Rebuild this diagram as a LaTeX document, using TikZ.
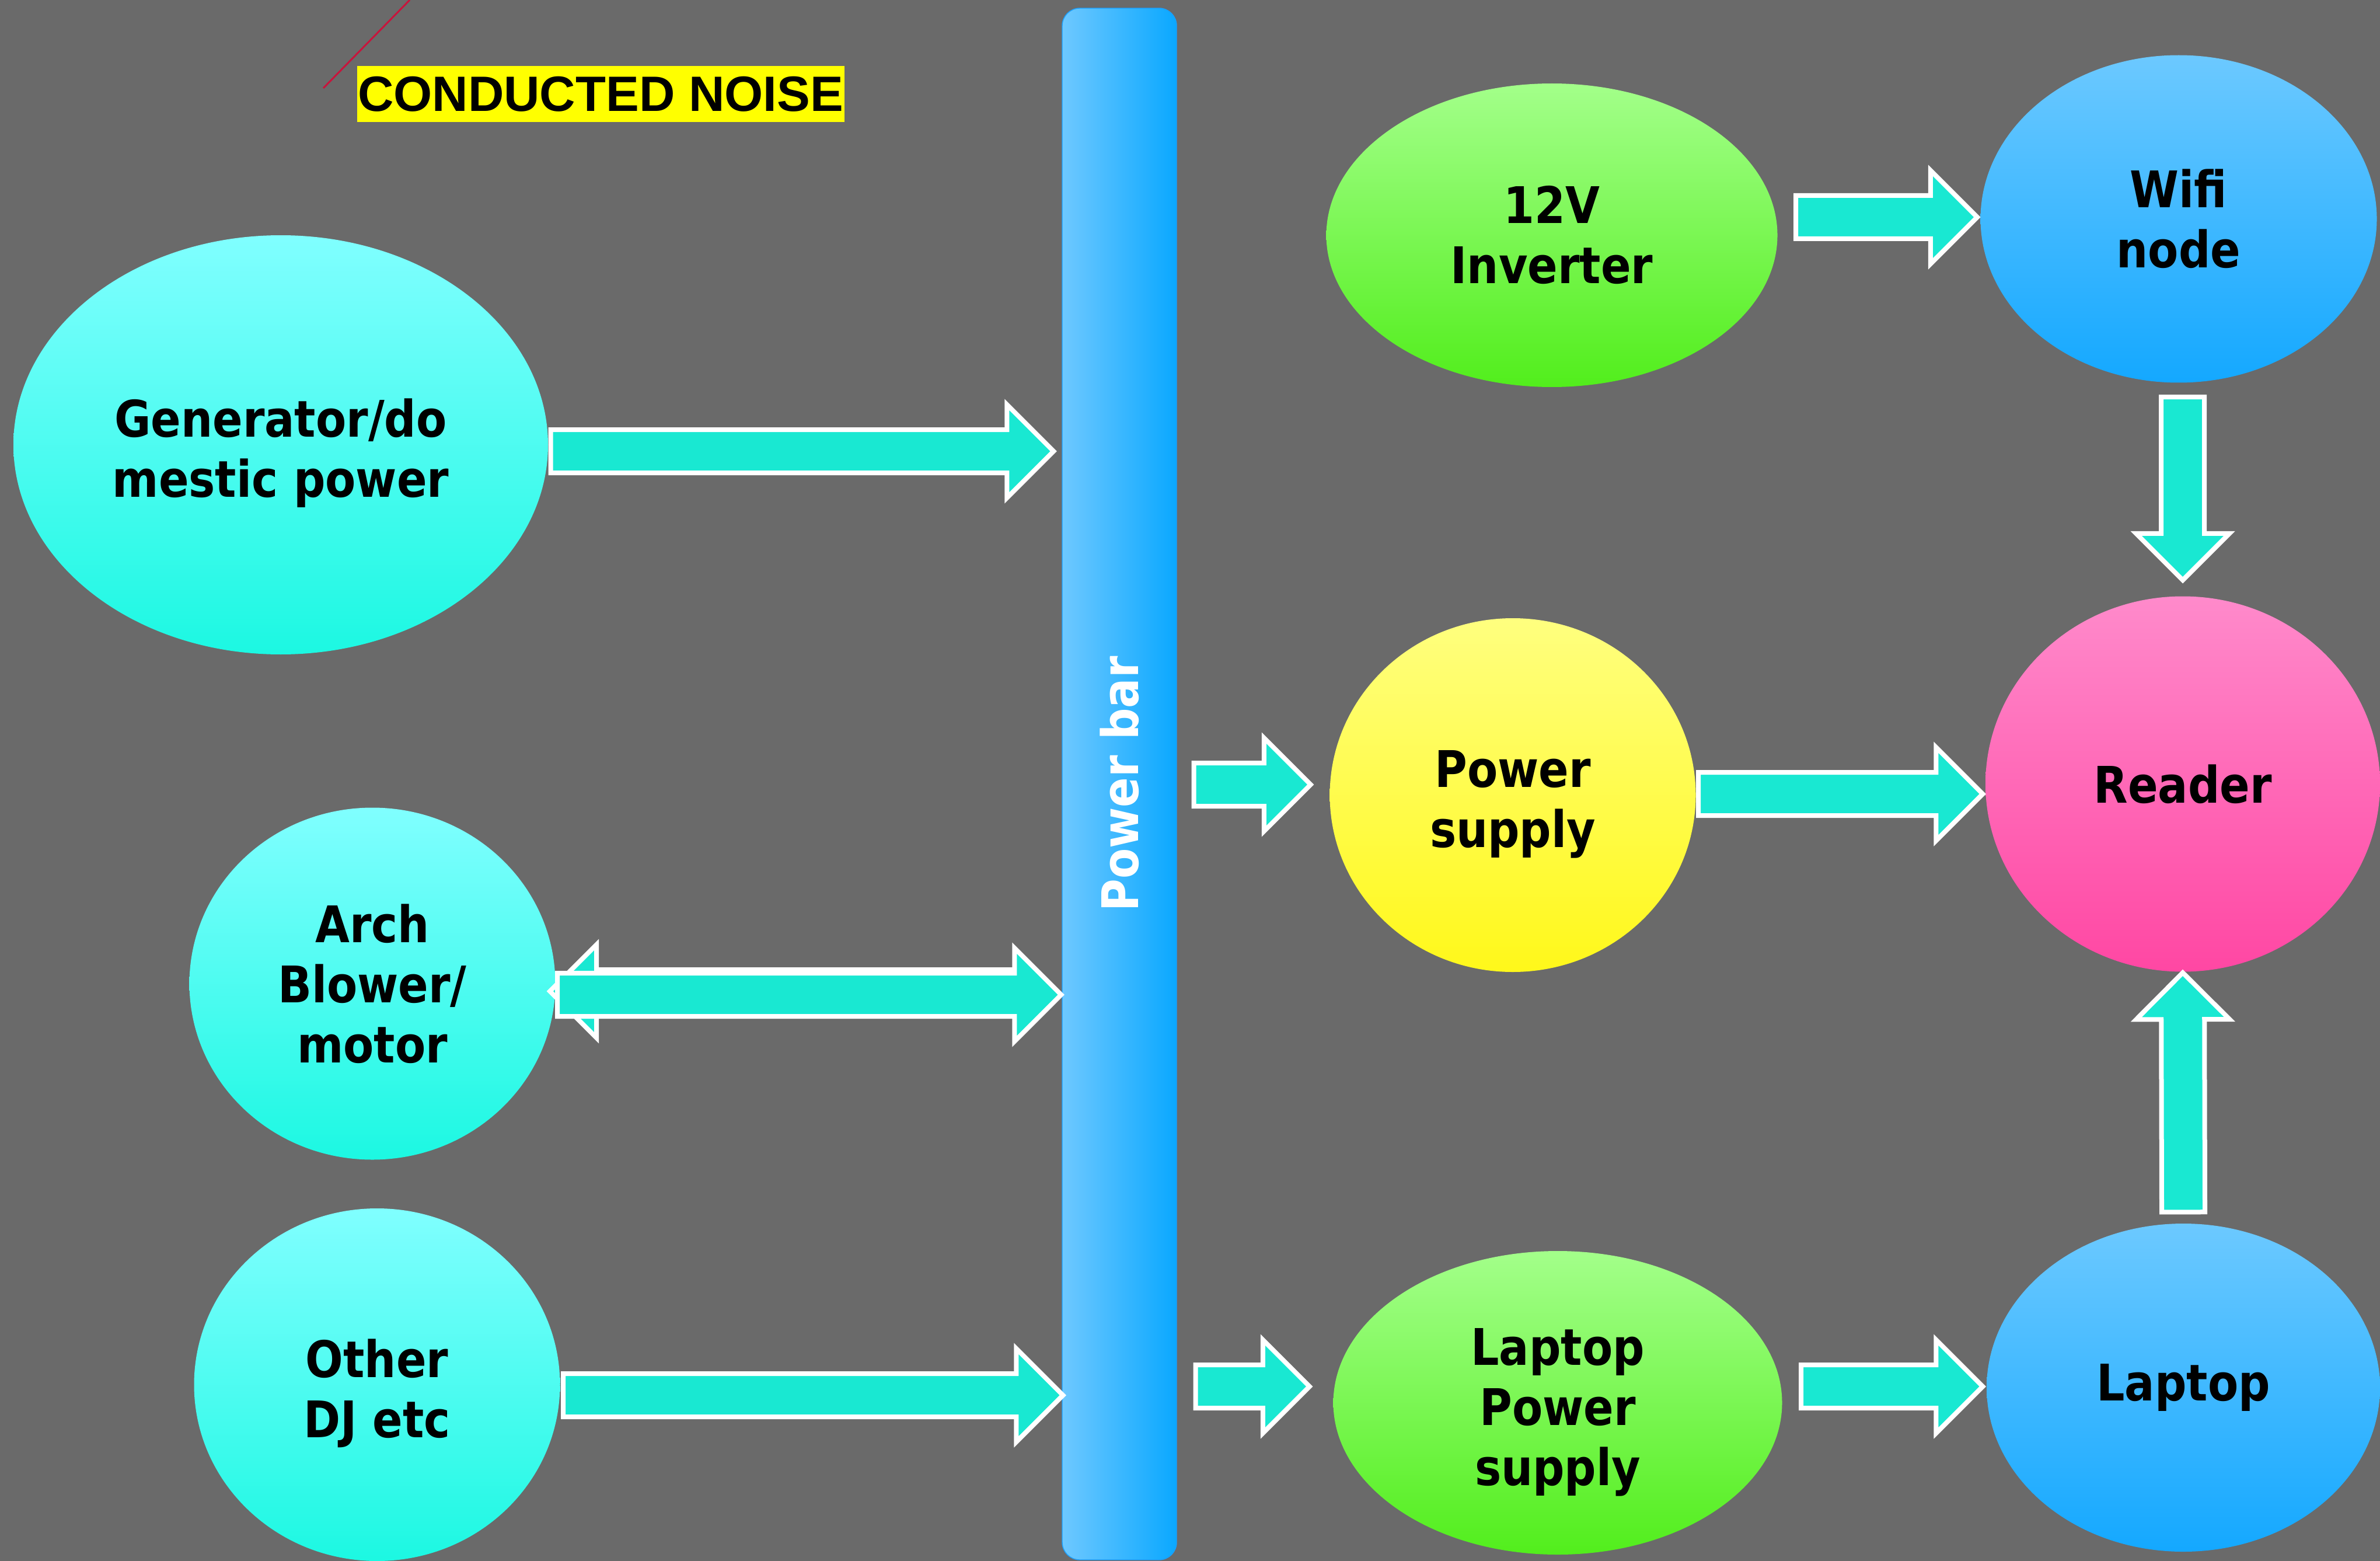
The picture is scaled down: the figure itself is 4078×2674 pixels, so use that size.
\documentclass[tikz,border=0pt]{standalone}
\usepackage{fontspec}
\newfontfamily\labelfont[FakeStretch=0.88]{DejaVu Sans}
\newfontfamily\titlefont{Liberation Sans}
\usetikzlibrary{shapes.geometric,calc,positioning}
\definecolor{backgray}{HTML}{6A6A6A}
\definecolor{noisered}{HTML}{C8143C}
\definecolor{tagyellow}{HTML}{FFFF00}
\definecolor{arrowteal}{HTML}{19E8D2}
\definecolor{cyantop}{HTML}{80FFFF}
\definecolor{cyanbottom}{HTML}{1CF8E2}
\definecolor{greentop}{HTML}{A3FF8A}
\definecolor{greenbottom}{HTML}{52EE1C}
\definecolor{bluetop}{HTML}{6CC9FF}
\definecolor{bluebottom}{HTML}{14A8FF}
\definecolor{yellowtop}{HTML}{FFFF7F}
\definecolor{yellowbottom}{HTML}{FFF81A}
\definecolor{pinktop}{HTML}{FF8ACB}
\definecolor{pinkbottom}{HTML}{FF47A3}
\definecolor{barleft}{HTML}{6EC8FF}
\definecolor{barright}{HTML}{0AA8FF}
\definecolor{barborder}{HTML}{1AA0FF}
\def\arrowshaft{3.7mm}
\def\arrowhead{8mm}
\def\arrowwing{8mm}
\newcommand\lowstrut{\rule{0pt}{27pt}}
\tikzset{
  bubble/.style={ellipse,inner sep=0pt,align=center,font=\labelfont\bfseries\fontsize{24.6pt}{29.3pt}\selectfont},
  cyanbubble/.style={bubble,top color=cyantop,bottom color=cyanbottom},
  greenbubble/.style={bubble,top color=greentop,bottom color=greenbottom},
  bluebubble/.style={bubble,top color=bluetop,bottom color=bluebottom},
  yellowbubble/.style={bubble,top color=yellowtop,bottom color=yellowbottom},
  pinkbubble/.style={bubble,top color=pinktop,bottom color=pinkbottom},
  powerbar/.style={rectangle,rounded corners=3mm,draw=barborder,thin,left color=barleft,right color=barright,minimum width=19.6mm,minimum height=265.8mm,inner sep=0pt,text=white,font=\labelfont\bfseries\fontsize{24.6pt}{29.3pt}\selectfont},
  tag/.style={fill=tagyellow,inner sep=0pt,minimum width=83.5mm,minimum height=9.6mm,font=\titlefont\bfseries\fontsize{24.2pt}{28pt}\selectfont},
  noiseline/.style={draw=noisered,line width=0.3mm},
  blockarrow/.style={draw=white,line width=0.8mm,fill=arrowteal,line join=miter}
}
% fat arrow from #1 to the tip #2
\newcommand\blockarrow[2]{%
  \path[blockarrow] let \p1=(#1), \p2=(#2),
    \n1={atan2(\y2-\y1,\x2-\x1)}, \n2={veclen(\x2-\x1,\y2-\y1)} in
    [shift={(\p1)},rotate=\n1]
    (0pt,-\arrowshaft) -- ({\n2*1pt-\arrowhead},-\arrowshaft) -- ({\n2*1pt-\arrowhead},-\arrowwing)
    -- ({\n2*1pt},0pt) -- ({\n2*1pt-\arrowhead},\arrowwing) -- ({\n2*1pt-\arrowhead},\arrowshaft)
    -- (0pt,\arrowshaft) -- cycle;
}

\begin{document}
\begin{tikzpicture}[x=0.1mm,y=-0.1mm]
  \useasboundingbox (0,0) rectangle (4078,2674);
  \fill[backgray] (0,0) rectangle (4078,2674);
  \draw[noiseline] (702,0) -- (554,151);
  \node[tag] (title) at (1029,161) {CONDUCTED NOISE};
  \node[powerbar] (bar) at (1918,1343) {\rotatebox{90}{Power bar}};
  % sources
  \node[cyanbubble,minimum width=91.6mm,minimum height=71.8mm] (gen) at (481,762) {\lowstrut Generator/do\\mestic power};
  \node[cyanbubble,minimum width=62.7mm,minimum height=60.3mm] (arch) at (638,1685) {Arch\\Blower/\\motor};
  \node[cyanbubble,minimum width=62.7mm,minimum height=60.4mm] (dj) at (646,2372) {\lowstrut Other\\DJ etc};
  % loads
  \node[greenbubble,minimum width=77.3mm,minimum height=52mm] (inv) at (2659,403) {12V\\Inverter};
  \node[bluebubble,minimum width=67.9mm,minimum height=56.1mm] (wifi) at (3733,375) {Wifi\\node};
  \node[yellowbubble,minimum width=62.7mm,minimum height=60.6mm] (psu) at (2592,1362) {\lowstrut Power\\supply};
  \node[pinkbubble,minimum width=67.6mm,minimum height=64.3mm] (reader) at (3740,1343) {Reader};
  \node[greenbubble,minimum width=76.9mm,minimum height=52mm] (lpsu) at (2669,2403) {\lowstrut Laptop\\Power\\supply};
  \node[bluebubble,minimum width=67.4mm,minimum height=56.2mm] (laptop) at (3741,2377) {Laptop};
  % arrows into the bar
  \blockarrow{$(gen.east)+(4,11)$}{$(bar.west |- gen.east)+(-14,11)$}
  \blockarrow{$(bar.west |- arch.east)+(-60,13)$}{$(arch.east)+(-10,13)$}
  \blockarrow{$(arch.east)+(3,19)$}{$(bar.west |- arch.east)+(-1,19)$}
  \blockarrow{$(dj.east)+(5,18)$}{$(bar.west |- dj.east)+(2,18)$}
  % arrows out of the bar
  \blockarrow{$(bar.east |- psu.west)+(29,-18)$}{$(psu.west)+(-32,-18)$}
  \blockarrow{$(bar.east |- lpsu.west)+(32,-28)$}{$(lpsu.west)+(-40,-28)$}
  % right column
  \blockarrow{$(inv.east)+(31,-31)$}{$(wifi.west |- inv.east)+(-5,-31)$}
  \blockarrow{$(psu.east)+(4,-2)$}{$(reader.west |- psu.east)+(-4,-2)$}
  \blockarrow{$(lpsu.east)+(32,-28)$}{$(laptop.west |- lpsu.east)+(-6,-28)$}
  \blockarrow{$(reader.north |- wifi.south)+(0,24)$}{$(reader.north)+(0,-27)$}
  \blockarrow{$(laptop.north)+(0,-19)$}{$(reader.south)+(0,1)$}
\end{tikzpicture}
\end{document}
